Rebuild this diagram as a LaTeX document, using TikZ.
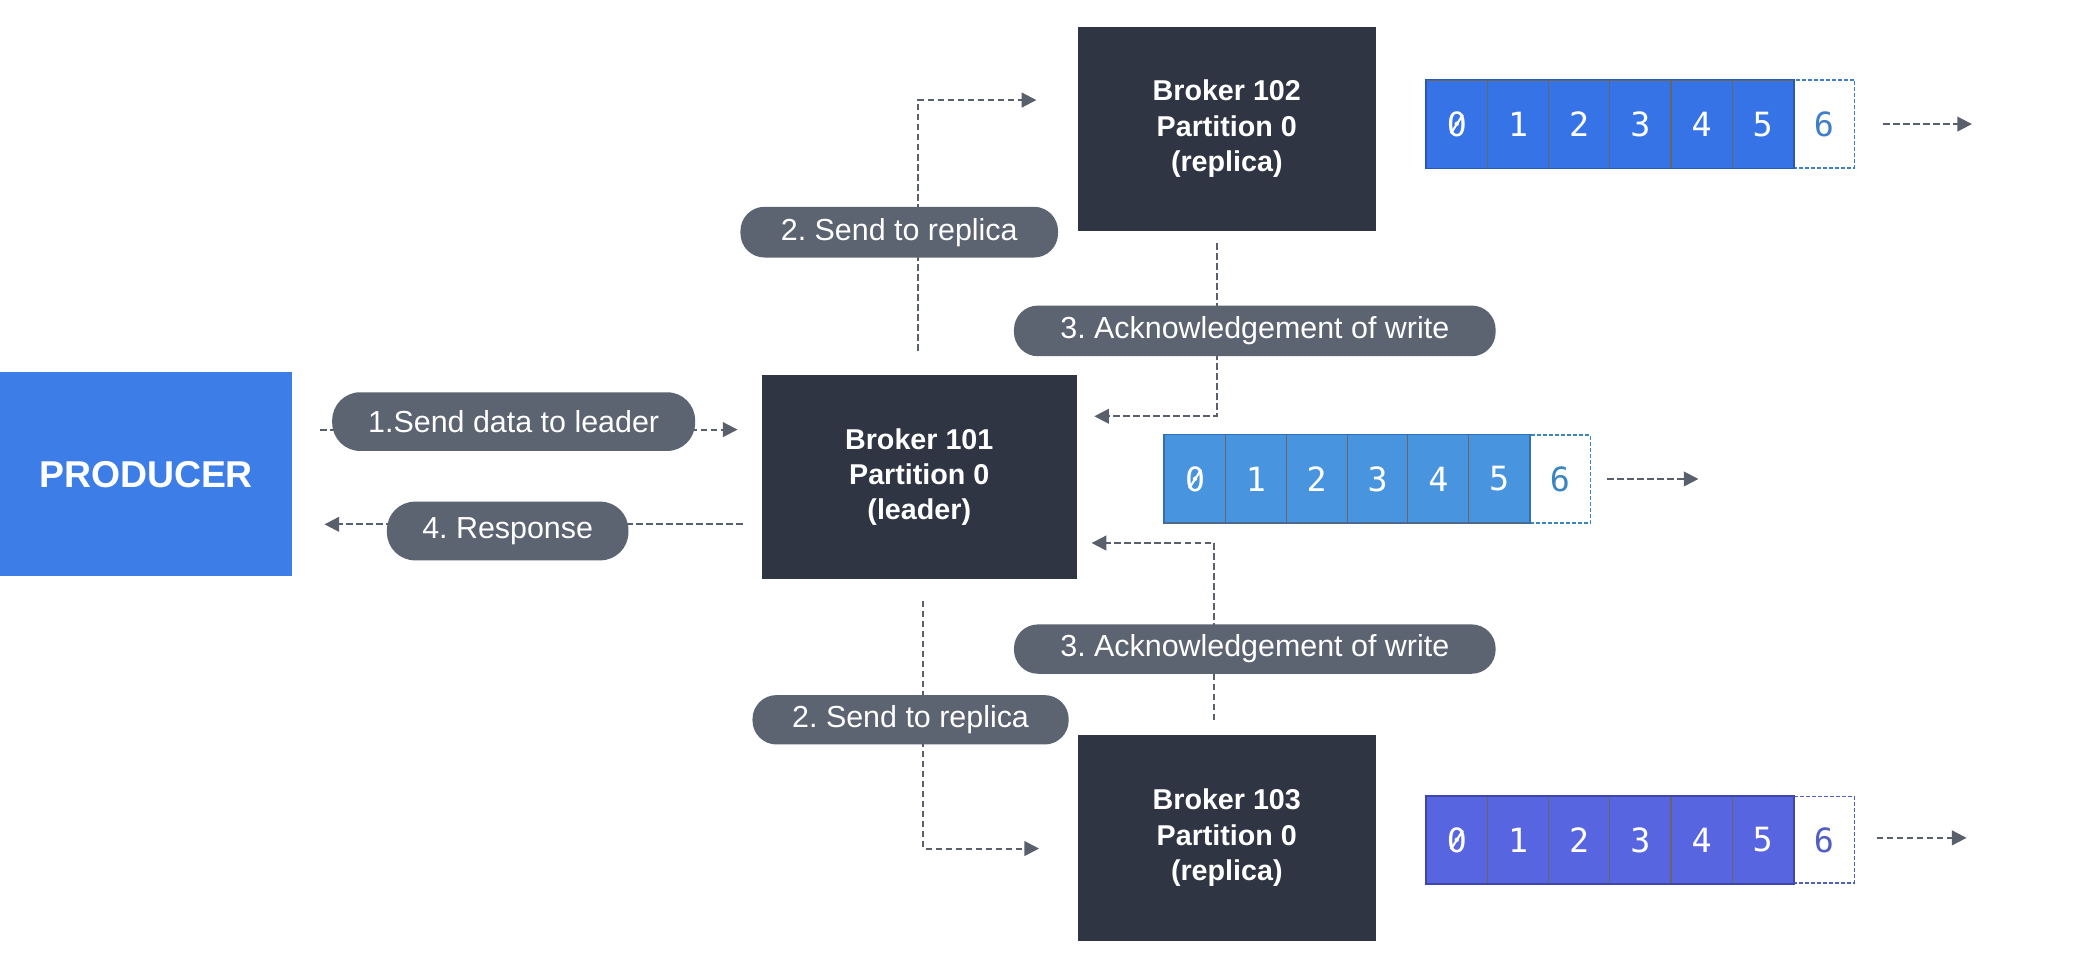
\documentclass[tikz,border=0pt]{standalone}
\usepackage{fontspec}
\setmainfont{Liberation Sans}
\setmonofont{DejaVu Sans Mono}
\usetikzlibrary{arrows.meta,backgrounds}
\definecolor{prodblue}{HTML}{3C7DE8}
\definecolor{brokerdark}{HTML}{2F3542}
\definecolor{pillgray}{HTML}{5C6371}
\definecolor{linegray}{HTML}{5A606B}
\definecolor{logA}{HTML}{3573E6}
\definecolor{logAb}{HTML}{2A58B0}
\definecolor{logAt}{HTML}{3F7FC8}
\definecolor{logB}{HTML}{4894DE}
\definecolor{logBb}{HTML}{3070B0}
\definecolor{logBt}{HTML}{3C86C0}
\definecolor{logC}{HTML}{5865E0}
\definecolor{logCb}{HTML}{3E48A8}
\definecolor{logCt}{HTML}{5060C0}
\tikzset{
  broker/.style={fill=brokerdark, text=white, font=\bfseries\fontsize{21.5}{26.5}\selectfont, align=center, minimum width=#1, minimum height=153pt, inner sep=0pt},
  pill/.style={fill=pillgray, text=white, font=\fontsize{22.8}{25}\selectfont, rounded corners=18pt, minimum height=38pt, inner sep=0pt},
  conn/.style={draw=linegray, line width=1.5pt, dash pattern=on 5pt off 2.5pt, -{Triangle[length=11pt,width=11pt]}},
  cell/.style={fill=#1, draw=black!60, line width=0.8pt, minimum height=66pt, inner sep=0pt, text=white, font=\ttfamily\fontsize{25}{25}\selectfont},
  lastcell/.style={fill=white, draw=#1, line width=1.2pt, dash pattern=on 3pt off 1.5pt, minimum height=66pt, inner sep=0pt, text=#1, font=\ttfamily\fontsize{25}{25}\selectfont},
  zslash/.style={draw=white, line width=1.6pt},
}
\begin{document}
\frenchspacing
\begin{tikzpicture}[x=1pt,y=-1pt]
\useasboundingbox (0,0) rectangle (1568,723);

% main boxes
\node[fill=prodblue, text=white, font=\bfseries\fontsize{28}{30}\selectfont, minimum width=219pt, minimum height=153pt, inner sep=0pt] (prod) at (109.5,355.5) {PRODUCER};
\node[broker=236pt] (b101) at (689,357.5) {Broker 101\\Partition 0\\(leader)};
\node[broker=223pt] (b102) at (919.5,96.5) {Broker 102\\Partition 0\\(replica)};
\node[broker=223pt, minimum height=154pt] (b103) at (919.5,628) {Broker 103\\Partition 0\\(replica)};

% pills
\node[pill, minimum width=272pt, minimum height=44pt, rounded corners=21pt] (p1) at (385,316) {1.Send data to leader};
\node[pill, minimum width=181pt, minimum height=44pt, rounded corners=21pt] (p4) at (380.5,398) {4. Response};
\node[pill, minimum width=238pt] (p2t) at (674,174) {2. Send to replica};
\node[pill, minimum width=361pt] (p3t) at (940.5,248) {3. Acknowledgement of write};
\node[pill, minimum width=361pt, minimum height=37pt] (p3b) at (940.5,486.5) {3. Acknowledgement of write};
\node[pill, minimum width=237pt, minimum height=37pt] (p2b) at (682.5,539.5) {2. Send to replica};

% logs
\foreach \i in {0,...,5} {
  \node[cell=logA, minimum width=45.86pt] (ta\i) at ({1069+45.86*(\i+0.5)},93) {\i};
  \node[cell=logB, minimum width=45.57pt] (ma\i) at ({873+45.57*(\i+0.5)},359) {\i};
  \node[cell=logC, minimum width=45.86pt, minimum height=65pt] (ba\i) at ({1069+45.86*(\i+0.5)},629.5) {\i};
}
\node[lastcell=logAt, minimum width=45.86pt] (ta6) at ({1069+45.86*6.5},93) {6};
\node[lastcell=logBt, minimum width=45.57pt] (ma6) at ({873+45.57*6.5},359) {6};
\node[lastcell=logCt, minimum width=45.86pt, minimum height=65pt] (ba6) at ({1069+45.86*6.5},629.5) {6};
\draw[logAb, line width=1.2pt] (ta0.north west) rectangle (ta5.south east);
\draw[logBb, line width=1.2pt] (ma0.north west) rectangle (ma5.south east);
\draw[logCb, line width=1.2pt] (ba0.north west) rectangle (ba5.south east);
\foreach \n in {ta0,ma0,ba0} {
  \draw[zslash] ([shift={(-4.5,7)}]\n.center) -- ([shift={(4.5,-7)}]\n.center);
}

\coordinate (ta_end) at (1478,93);
\coordinate (ma_end) at (1273,359);
\coordinate (ba_end) at (1474,628);
\draw[conn] ([xshift=21pt]ta6.east) -- (ta_end);
\draw[conn] ([xshift=12pt]ma6.east) -- (ma_end);
\draw[conn] ([xshift=16pt]ba6.east |- ba_end) -- (ba_end);

% connectors behind pills
\begin{scope}[on background layer]
\fill[white] (0,0) rectangle (1568,723);
\draw[conn] ([xshift=21pt]prod.east |- 0,322) -- ([xshift=-18pt]b101.west |- 0,322);
\draw[conn] ([xshift=-14pt]b101.west |- 0,393) -- ([xshift=24pt]prod.east |- 0,393);
\draw[conn] ([xshift=-1pt,yshift=18pt]b101.north) |- ([xshift=-31pt]b102.west |- 0,75);
\draw[conn] ([xshift=3pt,yshift=-16pt]b101.south) |- ([xshift=-29pt]b103.west |- 0,636);
\draw[conn] ([xshift=-7.5pt,yshift=-9pt]b102.south) |- ([xshift=13pt]b101.east |- 0,312);
\draw[conn] ([xshift=-9.5pt,yshift=11pt]b103.north) |- ([xshift=11pt]b101.east |- 0,407);
\end{scope}
\end{tikzpicture}
\end{document}
